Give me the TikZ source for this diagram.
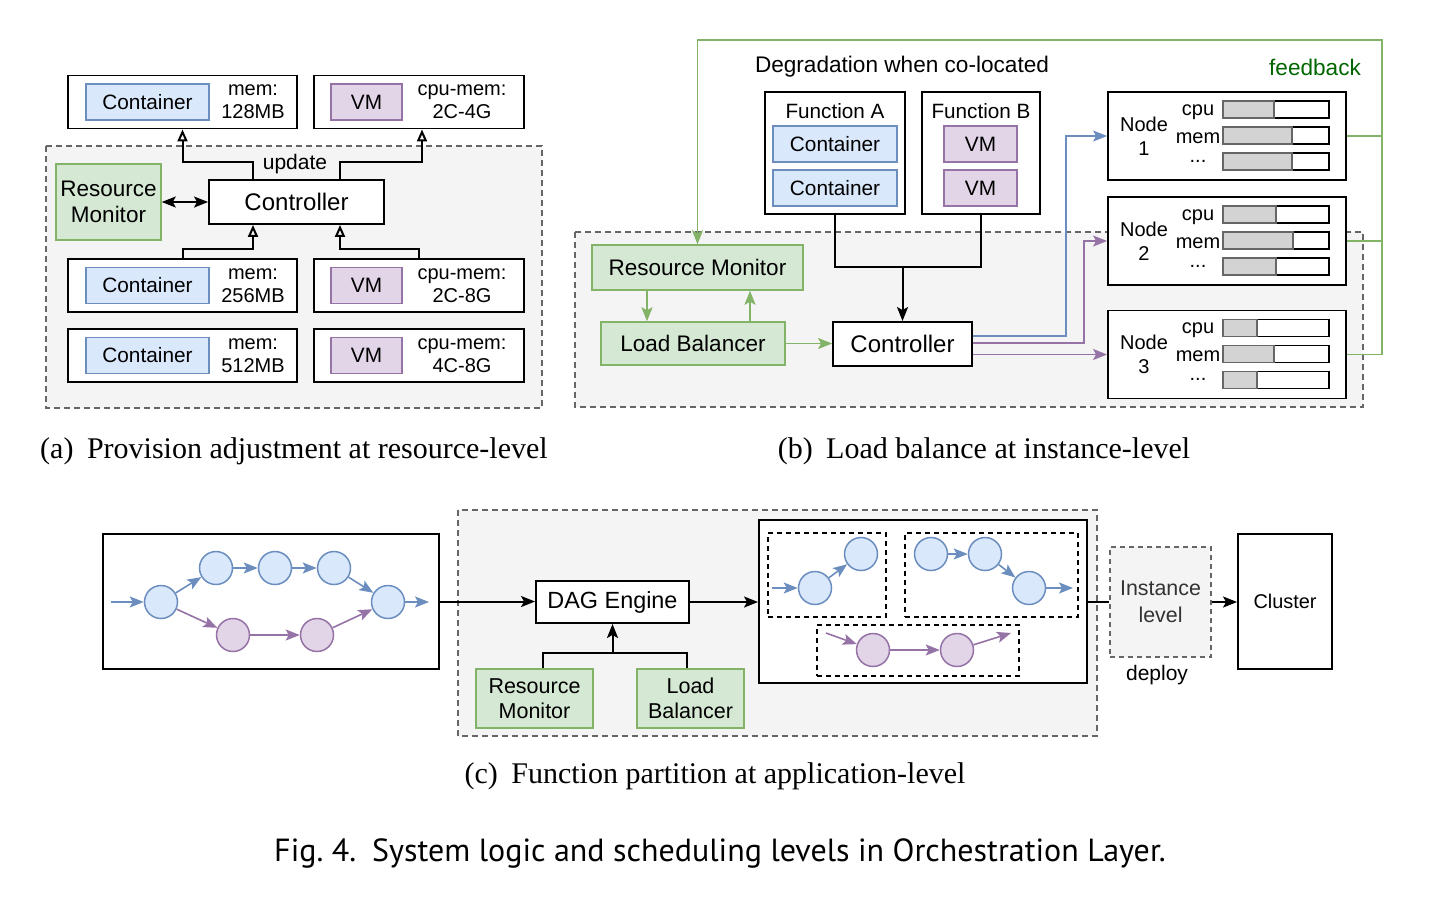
\documentclass[tikz,border=0pt]{standalone}
\usepackage{fontspec}
\setmainfont{Liberation Serif}
\setsansfont{Liberation Sans}
\newfontfamily\capfont{PT Sans}
\usetikzlibrary{arrows.meta}
\usetikzlibrary{positioning}

\definecolor{bluefill}{HTML}{DAE8FC}
\definecolor{blueline}{HTML}{6C8EBF}
\definecolor{purpfill}{HTML}{E1D5E7}
\definecolor{purpline}{HTML}{9673A6}
\definecolor{grnfill}{HTML}{D5E8D4}
\definecolor{grnline}{HTML}{82B366}
\definecolor{regfill}{HTML}{F4F4F4}
\definecolor{regline}{HTML}{666666}
\definecolor{fbtext}{HTML}{006600}
\definecolor{barfill}{HTML}{D3D3D3}
\definecolor{instext}{HTML}{333333}

\newcommand\ctlfont{\sffamily\fontsize{24}{28}\selectfont}
\newcommand\subcapfont{\rmfamily\fontsize{30}{34}\selectfont}

\tikzset{
  every node/.style={font=\sffamily\fontsize{21}{26}\selectfont,inner sep=0pt,align=center},
  box/.style={draw,line width=1.9pt,fill=white},
  cont/.style={draw=blueline,fill=bluefill,line width=1.5pt,minimum height=36,font=\sffamily\fontsize{20.8}{24}\selectfont},
  vmbox/.style={draw=purpline,fill=purpfill,line width=1.5pt,minimum height=36,font=\sffamily\fontsize{20.8}{24}\selectfont},
  grn/.style={draw=grnline,fill=grnfill,line width=1.5pt,font=\sffamily\fontsize{22.5}{26}\selectfont},
  region/.style={draw=regline,fill=regfill,line width=1.4pt,dash pattern=on 6pt off 4pt},
  grp/.style={draw,line width=1.7pt,dash pattern=on 5pt off 4pt},
  inst/.style={draw=regline,fill=regfill,line width=1.4pt,dash pattern=on 5pt off 4pt,text=instext,font=\sffamily\fontsize{21.4}{27}\selectfont},
  bcirc/.style={circle,draw=blueline,fill=bluefill,line width=1.5pt,minimum size=33},
  pcirc/.style={circle,draw=purpline,fill=purpfill,line width=1.5pt,minimum size=33},
  conn/.style={line width=2pt},
  bconn/.style={draw=blueline,line width=1.6pt},
  pconn/.style={draw=purpline,line width=1.6pt},
  gconn/.style={draw=grnline,line width=1.8pt},
  blk/.style={-{Stealth[length=14pt,width=11pt,inset=3pt]}},
  opn/.style={-{Triangle[open,length=12pt,width=10pt]}},
  sarr/.style={-{Stealth[length=14pt,width=11pt,inset=3pt]}},
  lbl/.style={font=\sffamily\fontsize{20}{23}\selectfont},
  ndtxt/.style={font=\sffamily\fontsize{20}{24}\selectfont},
}

\begin{document}
\begin{tikzpicture}[x=1pt,y=-1pt]
\useasboundingbox (0,0) rectangle (1431,897);
% (a) resource level
\draw[region] (46,146) rectangle (542,408);
\foreach \r/\y/\m/\c in {1/102/128MB/2C-4G,2/285.5/256MB/2C-8G,3/355.5/512MB/4C-8G} {
  \node[box,minimum width=229,minimum height=53] (ca\r) at (182.5,\y) {};
  \node[cont,minimum width=123] (cta\r) at (147.5,\y) {Container};
  \node[lbl] (mema\r) at (253,\y) {mem:\\\m};
  \node[box,minimum width=210,minimum height=53] (va\r) at (419,\y) {};
  \node[vmbox,minimum width=71] (vma\r) at (366.5,\y) {VM};
  \node[lbl] (cpua\r) at (462,\y) {cpu-mem:\\\c};
}
\node[box,minimum width=175,minimum height=44,font=\ctlfont] (ctla) at (296.5,202) {Controller};
\node[grn,minimum width=105,minimum height=76] (rma) at (108.5,202) {Resource\\Monitor};
\draw[conn,{Stealth[length=14pt,width=11pt,inset=3pt]}-{Stealth[length=14pt,width=11pt,inset=3pt]}] (rma) -- (ctla);
\draw[conn,opn] ([xshift=-43.5]ctla.north) -- ++(0,-17) -| (ca1.south);
\draw[conn,opn] ([xshift=43.5]ctla.north) -- ++(0,-17) -| ([xshift=3]va1.south);
\node (upd) at (295,164) {update};
\draw[conn,opn] (ca2.north) -- ++(0,-9) -| ([xshift=-43.5]ctla.south);
\draw[conn,opn] (va2.north) -- ++(0,-9) -| ([xshift=43.5]ctla.south);
\node[font=\subcapfont] (capa) at (294,451) {(a)\hspace{0.45em}Provision adjustment at resource-level};

% (b) instance level
\draw[region] (575,232) rectangle (1363,407);
\node[font=\sffamily\fontsize{22.6}{26}\selectfont] (deg) at (902,67) {Degradation when co-located};
\node[text=fbtext,font=\sffamily\fontsize{22.6}{26}\selectfont] (fbl) at (1315,67) {feedback};
\node[box,minimum width=140,minimum height=122] (fna) at (835,153) {};
\node[font=\sffamily\fontsize{20.7}{24}\selectfont] (fnat) at (835,111) {Function A};
\node[cont,minimum width=124] (cb1) at (835,144) {Container};
\node[cont,minimum width=124] (cb2) at (835,188) {Container};
\node[box,minimum width=118,minimum height=122] (fnb) at (981,153) {};
\node[font=\sffamily\fontsize{20.7}{24}\selectfont] (fnbt) at (981,111) {Function B};
\node[vmbox,minimum width=73] (vb1) at (980.5,144) {VM};
\node[vmbox,minimum width=73] (vb2) at (980.5,188) {VM};
\node[grn,minimum width=211,minimum height=45] (rmb) at (697.5,267.5) {Resource Monitor};
\node[grn,minimum width=184,minimum height=43] (lbb) at (693,343.5) {Load Balancer};
\node[box,minimum width=139,minimum height=44,font=\ctlfont] (ctlb) at (902.5,344) {Controller};
\coordinate (jb) at (902.5,267);
\draw[conn] (fna.south) |- (jb) -| (fnb.south);
\draw[conn,blk] (jb) -- (ctlb);
\draw[gconn,sarr] (rmb.south -| 647,0) -- (lbb.north -| 647,0);
\draw[gconn,sarr] (lbb.north -| 750,0) -- (rmb.south -| 750,0);
\draw[gconn,sarr] (lbb.east) -- (lbb.east -| ctlb.west);
\foreach \i/\c/\pa/\pb/\pc in {1/136/0.48/0.65/0.65,2/241/0.5/0.66/0.5,3/354.5/0.32/0.48/0.32} {
  \node[box,minimum width=238,minimum height=88] (nd\i) at (1227,\c) {};
  \node[ndtxt] (ndt\i) at (1144,\c) {Node\\\i};
  \node[ndtxt] (cpu\i) at (1198,\c-24) {cpu};
  \node[ndtxt] (mem\i) at (1198,\c+2) {mem};
  \node[ndtxt] (dots\i) at (1198,\c+25) {...};
  \foreach \k/\p in {0/\pa,1/\pb,2/\pc} {
    \draw[line width=1.8pt,fill=white] (1223,\c-35+26*\k) rectangle ++(106,17);
    \draw[line width=1.5pt,draw=regline,fill=barfill] (1223,\c-35+26*\k) rectangle ++(106*\p,17);
  }
}
\coordinate (fbx) at (1382,40);
\draw[gconn,sarr] (nd3.east) -| (fbx) -| (rmb.north);
\draw[gconn] (nd1.east) -- (nd1.east -| fbx);
\draw[gconn] (nd2.east) -- (nd2.east -| fbx);
\draw[bconn,sarr] ([yshift=8]ctlb.east) -- ++(93,0) |- (nd1.west);
\draw[pconn,sarr] ([yshift=1]ctlb.east) -- ++(111,0) |- (nd2.west);
\draw[pconn,sarr] (ctlb.east |- nd3.west) -- (nd3.west);
\node[font=\subcapfont] (capb) at (984,451) {(b)\hspace{0.45em}Load balance at instance-level};

% (c) application level
\draw[region] (458,510) rectangle (1097,736);
\node[box,minimum width=336,minimum height=135] (dag) at (271,601.5) {};
\foreach \n/\x/\y in {c1/161/602,c2/216/568,c3/275/568,c4/334/568,c5/388/602}
  \node[bcirc] (\n) at (\x,\y) {};
\foreach \n/\x/\y in {p1/233/635,p2/317/635}
  \node[pcirc] (\n) at (\x,\y) {};
\coordinate (din) at (111,602);
\coordinate (dout) at (429,602);
\foreach \a/\b in {din/c1,c1/c2,c2/c3,c3/c4,c4/c5,c5/dout}
  \draw[bconn,sarr] (\a) -- (\b);
\foreach \a/\b in {c1/p1,p1/p2,p2/c5}
  \draw[pconn,sarr] (\a) -- (\b);
\node[box,minimum width=153,minimum height=42,font=\sffamily\fontsize{23.4}{27}\selectfont] (dage) at (612.5,602) {DAG Engine};
\node[grn,minimum width=117,minimum height=59,font=\sffamily\fontsize{21.5}{25}\selectfont] (rmc) at (534.5,698.5) {Resource\\Monitor};
\node[grn,minimum width=107,minimum height=59,font=\sffamily\fontsize{21.5}{25}\selectfont] (lbc) at (690.5,698.5) {Load\\Balancer};
\coordinate (jc) at (612.5,653);
\draw[conn] ([xshift=8.5]rmc.north) |- (jc) -| ([xshift=-3.5]lbc.north);
\draw[conn,blk] (jc) -- (dage);
\draw[conn,blk] (dag.east) -- (dag.east -| dage.west);
\node[box,minimum width=328,minimum height=163] (part) at (923,601.5) {};
\draw[conn,blk] (dage.east) -- (dage.east -| part.west);
\node[grp,minimum width=118,minimum height=84] (g1) at (827,575) {};
\node[grp,minimum width=173,minimum height=84] (g2) at (991.5,575) {};
\node[grp,minimum width=202,minimum height=51] (g3) at (918,650.5) {};
\foreach \n/\x/\y in {a1/815/588,a2/861/554,b1/931/554,b2/985/554,b3/1029/588}
  \node[bcirc] (\n) at (\x,\y) {};
\foreach \n/\x/\y in {q1/873/650,q2/957/650}
  \node[pcirc] (\n) at (\x,\y) {};
\coordinate (ain) at (772,588);
\coordinate (bout) at (1073,588);
\coordinate (qin) at (826,633);
\coordinate (qout) at (1011,633);
\foreach \a/\b in {ain/a1,a1/a2,b1/b2,b2/b3,b3/bout}
  \draw[bconn,sarr] (\a) -- (\b);
\foreach \a/\b in {qin/q1,q1/q2,q2/qout}
  \draw[pconn,sarr] (\a) -- (\b);
\node[inst,minimum width=101,minimum height=110] (inst) at (1160.5,602) {Instance\\level};
\node[box,minimum width=94,minimum height=135,font=\sffamily\fontsize{19.9}{24}\selectfont] (clu) at (1285,601.5) {Cluster};
\draw[conn] (part.east) -- (part.east -| inst.west);
\draw[conn,blk] (inst.east) -- (inst.east -| clu.west);
\node (dep) at (1157,675) {deploy};
\node[font=\subcapfont] (capc) at (715,776) {(c)\hspace{0.45em}Function partition at application-level};

\node[font=\capfont\fontsize{32}{38}\selectfont] (fig) at (720,853) {Fig.~4.\hspace{0.5em}System logic and scheduling levels in Orchestration Layer.};
\end{tikzpicture}
\end{document}
